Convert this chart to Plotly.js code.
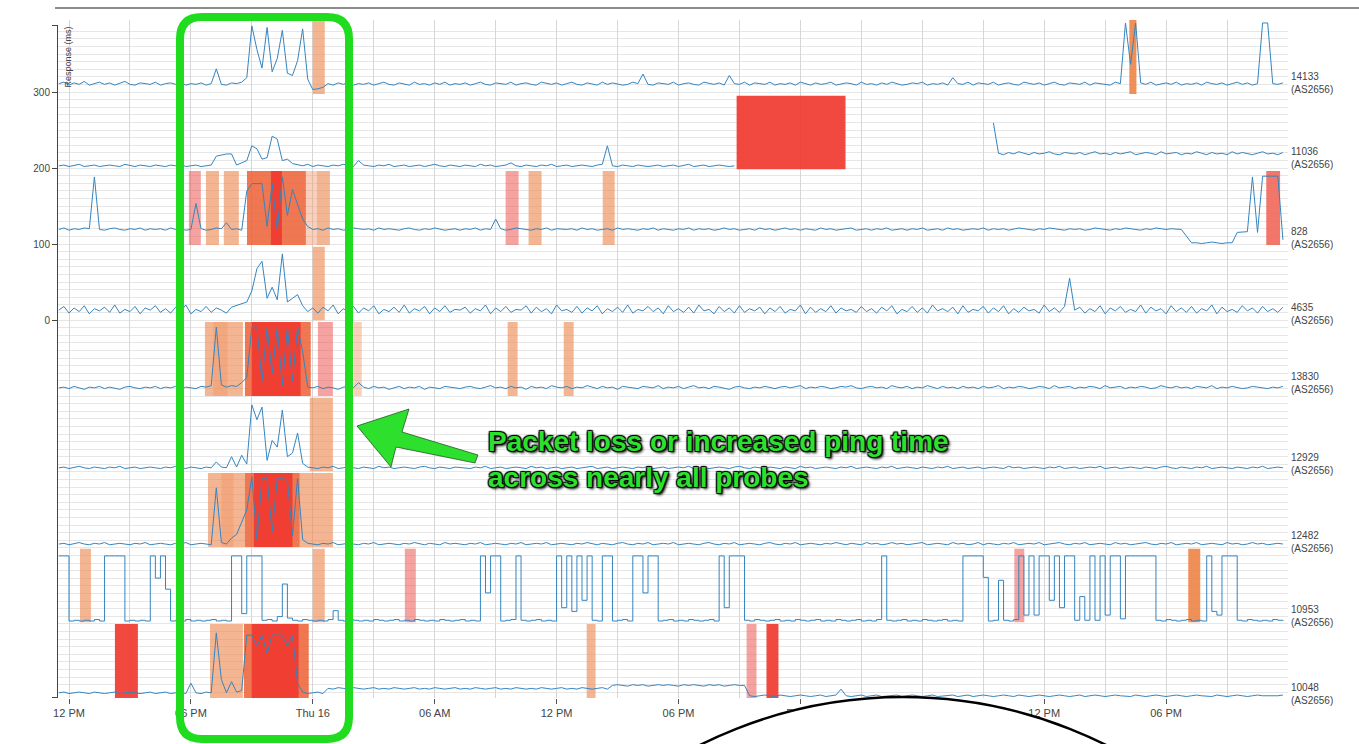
<!DOCTYPE html>
<html>
<head>
<meta charset="utf-8">
<script src="https://cdn.plot.ly/plotly-3.0.1.min.js"></script>
<style>html,body{margin:0;padding:0;background:#fff}#chart{width:1359px;height:744px}</style>
</head>
<body>
<div id="chart"></div>
<script>
// ---------------- DATA ----------------
const seriesStart = '2015-07-15 11:30';   // first sample
const stepMinutes = 15;                   // sampling interval
const probeIds = ['14133','11036','828','4635','13830','12929','12482','10953','10048'];
const probeAsn = 'AS2656';

const xTickVals = ['2015-07-15 12:00','2015-07-15 18:00','2015-07-16 00:00','2015-07-16 06:00','2015-07-16 12:00',
                   '2015-07-16 18:00','2015-07-17 00:00','2015-07-17 06:00','2015-07-17 12:00','2015-07-17 18:00'];
const xTickText = ['12 PM','06 PM','Thu 16','06 AM','12 PM','06 PM','Fri 17','06 AM','12 PM','06 PM'];
const yTickVals = [0, 100, 200, 300];

// response times (ms, per probe), one value per 15 minutes
const rtt14133 = [
14,16,12,15,13,17,12,14,16,13,15,12,14,17,13,12,15,14,13,16,
12,14,15,13,16,12,14,13,15,12,14,34,13,12,15,14,16,22,92,60,
35,90,30,48,86,28,25,45,88,20,6,7,9,14,12,15,13,16,12,14,
13,15,12,14,16,13,12,15,14,12,16,13,14,12,15,13,16,12,14,13,
15,12,14,16,13,12,15,14,13,16,12,14,15,13,12,16,14,13,15,12,
14,16,13,12,15,14,12,16,13,15,14,12,13,16,14,27,13,12,15,14,
13,16,12,14,15,13,12,16,14,13,15,12,25,14,13,16,12,15,14,13,
16,12,14,13,15,12,16,14,12,15,13,14,16,12,13,15,14,12,16,13,
14,12,15,13,16,14,12,13,15,14,16,12,14,13,15,12,22,14,13,16,
12,15,14,13,16,12,14,15,13,12,16,14,13,15,12,14,16,13,12,15,
14,13,16,12,15,14,13,12,16,14,96,40,96,15,13,16,12,14,15,13,
16,12,14,13,15,12,16,14,13,15,12,14,16,13,15,12,14,96,96,14,
13,15];
const rtt11036 = [
5,6,4,5,7,4,5,6,4,5,6,5,4,7,5,4,6,5,4,6,
5,4,6,5,7,4,5,6,4,5,6,18,20,21,21,6,9,12,32,28,
14,16,45,41,12,14,8,6,5,7,4,6,5,4,6,5,7,5,4,12,
6,5,4,6,5,7,4,5,6,4,5,6,4,5,7,5,4,6,5,4,
6,5,4,7,5,6,4,5,6,9,5,4,6,5,4,6,5,7,4,5,
6,4,5,6,5,4,6,7,32,5,4,6,5,4,6,5,4,5,6,4,
5,6,4,5,7,4,5,6,4,5,6,5,4,5,null,null,null,null,null,null,
null,null,null,null,null,null,null,null,null,null,null,null,null,null,null,null,null,null,null,null,
null,null,null,null,null,null,null,null,null,null,null,null,null,null,null,null,null,null,null,null,
null,null,null,null,63,22,20,23,21,24,22,20,23,21,22,24,21,20,23,22,
21,23,20,22,24,21,22,20,23,21,22,24,20,21,23,22,20,24,21,22,
23,20,22,21,24,22,20,23,21,22,20,24,21,23,22,20,22,24,21,22,
20,23];
const rtt828 = [
21,23,20,22,21,23,22,92,21,20,22,23,21,20,22,21,23,20,22,21,
22,20,23,21,22,20,21,56,22,20,21,23,22,30,21,22,20,73,83,83,
83,25,83,20,92,40,75,55,35,25,21,22,20,23,21,22,20,21,23,22,
21,22,20,23,21,22,21,20,22,23,21,20,22,21,23,22,20,21,22,20,
22,21,23,20,22,21,35,22,20,21,23,22,21,20,22,21,23,20,22,21,
21,22,20,23,21,22,20,21,22,20,23,21,22,21,20,22,21,23,20,22,
21,20,22,21,23,20,22,21,22,20,21,23,21,22,20,21,22,20,23,21,
22,20,21,23,21,22,20,22,21,20,23,21,22,20,21,22,23,20,21,22,
20,22,21,23,20,21,22,20,22,21,23,20,21,22,20,23,21,22,20,21,
22,21,23,20,22,21,22,20,21,23,22,21,20,22,21,23,22,21,20,22,
21,22,20,21,23,22,21,20,22,21,23,22,21,20,22,21,23,22,21,22,
22,21,12,3,3,2,3,4,3,2,3,3,17,17,18,92,17,93,93,93,
93,7];
const rtt4635 = [
14,19,10,17,12,20,9,16,13,18,11,21,10,15,12,19,9,17,14,20,
11,16,10,18,13,21,9,15,12,19,11,17,14,10,18,20,22,25,40,70,
80,30,45,28,90,25,30,35,20,12,17,10,18,13,21,9,16,12,19,10,
17,13,20,9,15,12,18,11,21,10,16,13,19,9,17,12,20,11,15,14,
18,10,16,13,21,9,17,12,19,11,15,14,20,10,18,12,16,9,21,13,
15,11,19,10,17,13,20,9,16,12,18,11,21,10,15,13,19,12,17,9,
20,12,16,11,18,10,21,13,15,9,19,12,17,10,20,11,16,13,18,9,
17,12,19,10,15,13,21,9,18,11,16,12,20,10,17,13,15,11,19,12,
16,10,18,13,20,9,15,12,19,11,17,10,21,13,16,12,18,9,20,11,
15,13,19,10,17,12,20,9,16,11,18,13,15,10,21,12,17,11,19,57,
14,18,10,16,12,20,9,17,13,19,11,15,12,21,10,18,13,16,9,20,
12,17,11,19,10,16,13,21,9,18,12,15,11,20,13,17,10,19,12,16,
11,18];
const rtt13830 = [
11,12,10,13,11,9,12,11,13,10,12,11,9,12,13,11,10,12,11,13,
10,12,11,13,9,12,11,10,13,12,14,93,15,12,14,13,18,25,93,93,
20,93,30,93,15,93,20,93,60,12,11,13,10,12,11,9,12,13,11,18,
12,10,13,11,12,9,11,13,10,12,11,13,9,12,11,10,13,12,11,10,
12,13,11,10,12,14,11,12,10,13,11,12,9,13,11,12,10,14,12,11,
13,10,12,11,14,12,10,13,11,12,9,13,12,11,10,13,12,11,14,10,
12,11,13,10,12,14,11,12,10,13,12,11,9,12,13,11,10,12,11,13,
11,10,12,13,11,12,14,10,12,11,13,12,10,11,13,12,14,11,10,12,
13,11,12,10,14,12,11,13,10,12,11,14,12,10,13,11,12,10,13,11,
12,10,13,11,12,14,10,12,11,13,12,10,11,13,12,10,14,11,12,13,
10,12,11,13,12,10,14,11,12,13,10,12,11,13,12,10,11,14,12,11,
13,11,12,10,13,12,11,14,10,12,11,13,12,10,11,13,12,11,10,12,
11,13];
const rtt12929 = [
5,6,4,5,7,5,4,6,5,4,6,5,7,4,5,6,4,5,6,5,
4,6,5,7,5,4,6,5,4,6,5,13,6,5,20,6,22,10,90,70,
87,15,42,33,83,20,25,52,11,6,5,4,6,5,7,4,5,6,5,4,
6,5,4,7,5,6,4,5,6,5,4,6,7,5,4,6,5,4,6,5,
5,4,6,5,7,4,5,6,4,5,6,5,4,7,5,6,4,5,6,4,
5,6,4,5,6,7,4,5,6,4,5,6,5,4,6,5,7,4,5,6,
4,5,6,5,7,4,5,6,4,5,6,5,4,6,7,5,4,6,5,4,
6,5,4,6,5,4,7,5,6,4,5,6,5,4,6,5,7,4,5,6,
5,4,6,5,7,4,5,6,5,4,6,5,4,6,5,7,4,5,6,4,
5,6,4,5,6,5,4,7,5,6,4,5,6,5,4,6,5,7,4,5,
6,4,5,6,5,7,4,5,6,4,5,6,5,4,6,5,4,6,7,5,
4,6,5,4,6,5,7,4,5,6,5,4,6,5,4,6,5,7,4,5,
6,5];
const rtt12482 = [
4,5,3,4,6,4,3,5,4,6,3,4,5,4,3,5,4,6,3,4,
5,4,3,5,4,6,3,4,5,4,3,80,6,4,12,17,33,50,95,10,
93,93,20,93,93,90,15,93,10,5,4,3,5,4,6,3,4,5,4,3,
5,4,6,3,4,5,4,3,5,4,6,4,3,5,4,3,6,4,5,4,
3,5,4,6,3,4,5,4,3,5,4,6,3,4,5,4,6,3,4,5,
4,3,5,4,6,4,3,5,4,3,5,6,4,3,5,4,6,3,4,5,
4,6,3,4,5,4,3,5,6,4,3,5,4,6,3,4,5,4,3,5,
6,4,3,5,4,6,3,4,5,4,3,5,4,6,4,3,5,4,3,6,
4,5,3,4,6,4,5,3,4,5,6,3,4,5,4,3,6,4,5,3,
4,6,3,5,4,3,5,4,6,3,4,5,4,6,3,4,5,6,4,3,
5,4,6,3,4,5,4,3,6,4,5,3,4,5,6,4,3,5,4,6,
3,4,5,4,6,3,4,5,4,3,6,4,5,3,4,6,4,5,3,4,
5,4];
const rtt10953 = [
90,90,2,3,2,3,2,4,2,90,90,90,90,2,3,2,3,2,90,60,
90,45,2,3,2,4,2,3,2,3,4,2,3,2,90,90,12,90,90,90,
3,4,2,8,52,6,3,2,4,3,2,3,2,4,16,3,2,4,3,2,
3,2,4,3,2,3,4,2,3,2,4,3,2,3,2,4,3,2,3,4,
2,3,2,90,40,90,90,2,3,4,90,3,2,3,4,2,3,2,90,20,
90,15,90,30,90,3,2,90,90,2,3,4,2,90,90,40,90,90,2,3,
4,2,3,2,4,3,2,3,4,2,90,20,90,90,90,3,2,4,3,2,
3,4,2,3,2,4,3,2,3,4,2,3,2,4,3,2,3,4,2,3,
2,4,90,3,2,3,4,2,3,2,4,3,2,3,4,2,3,2,90,90,
90,90,61,2,3,57,3,2,4,90,10,90,10,90,90,30,90,20,90,90,
3,35,3,90,3,90,10,90,90,5,90,90,90,90,90,90,3,2,4,3,
2,3,4,2,3,2,90,15,10,90,90,90,3,2,4,3,2,3,2,4,
3,2];
const rtt10048 = [
7,8,6,7,8,7,6,8,7,6,7,8,6,7,8,7,6,7,8,6,
7,8,6,7,8,6,20,7,6,8,7,88,25,7,22,8,10,85,85,70,
85,60,85,85,85,70,85,20,8,6,7,8,6,13,12,14,13,12,14,13,
12,13,14,12,13,12,14,13,12,13,14,12,13,12,14,13,12,13,14,12,
13,12,14,13,12,13,14,12,13,12,14,13,12,13,12,14,13,12,13,14,
12,13,12,14,13,12,13,14,12,17,18,17,16,18,17,18,16,17,18,17,
18,17,16,18,17,18,17,16,18,17,18,16,17,18,17,17,3,2,3,4,
3,2,4,3,2,3,4,3,2,3,4,2,3,4,12,3,2,3,4,2,
3,4,2,3,3,4,2,3,4,3,2,3,4,2,3,3,4,2,3,4,
2,3,4,3,2,3,4,3,2,4,3,2,3,4,3,2,3,4,3,2,
3,4,2,3,4,3,2,3,4,3,3,2,4,3,2,3,4,3,2,3,
4,3,2,3,4,3,3,2,4,3,2,3,4,3,2,3,4,3,3,2,
3,4];

// packet-loss windows: [start hour, end hour] after seriesStart, loss level
const loss14133 = [[12.50,13.09,'o'],[52.69,53.04,'m']];
const loss11036 = [[33.36,38.72,'r']];
const loss828   = [[6.40,6.99,'p'],[7.24,7.88,'o'],[8.12,8.86,'o'],[9.26,12.16,'O'],[10.44,10.98,'r'],
                   [12.16,12.70,'l'],[12.70,13.34,'o'],[21.99,22.63,'p'],[23.12,23.76,'o'],[26.77,27.36,'o'],[59.43,60.11,'s']];
const loss4635  = [[12.50,13.09,'o']];
const loss13830 = [[7.19,9.06,'o'],[7.60,8.30,'l'],[9.16,12.40,'O'],[9.50,11.90,'r'],[12.75,13.49,'p'],
                   [14.52,14.91,'l'],[22.09,22.58,'o'],[24.85,25.34,'o']];
const loss12929 = [[12.35,13.49,'o']];
const loss12482 = [[7.34,9.16,'o'],[8.00,8.60,'l'],[9.16,11.86,'O'],[9.60,11.50,'r'],[11.86,13.49,'o']];
const loss10953 = [[1.04,1.58,'o'],[12.50,13.09,'o'],[17.03,17.57,'p'],[47.03,47.52,'p'],[55.59,56.18,'m']];
const loss10048 = [[2.76,3.89,'r'],[7.44,9.06,'o'],[9.11,12.30,'O'],[9.50,11.80,'r'],[25.98,26.42,'o'],[33.85,34.34,'p'],[34.83,35.42,'r']];

// ---------------- BUILD ----------------
const rttSeries = [rtt14133,rtt11036,rtt828,rtt4635,rtt13830,rtt12929,rtt12482,rtt10953,rtt10048];
const lossSeries = [loss14133,loss11036,loss828,loss4635,loss13830,loss12929,loss12482,loss10953,loss10048];
const lineShapes = ['linear','linear','linear','linear','linear','linear','linear','hv','linear'];
const lossColor = {
  p:'rgba(236,88,82,0.55)', l:'rgba(240,150,105,0.45)', o:'rgba(238,135,80,0.62)', s:'rgba(240,95,80,0.85)',
  m:'rgba(236,125,60,0.85)', O:'rgba(236,95,50,0.85)', r:'rgba(240,58,48,0.93)'
};
const t0 = Date.parse(seriesStart.replace(' ','T') + ':00Z');
const fmt = ms => new Date(ms).toISOString().slice(0,19).replace('T',' ');

const W = 1359, H = 744, ML = 58, MR = 71, MT = 20, MB = 46;
const PW = W - ML - MR, PH = H - MT - MB;
const px = x => (x - ML) / PW;               // pixel -> paper x
const py = y => (H - MB - y) / PH;           // pixel -> paper y

const bandPx = 74, gapPx = 1.5, bandMax = 100;
const traces = [{x:[seriesStart], y:[null], xaxis:'x', yaxis:'y', mode:'lines', hoverinfo:'skip', showlegend:false}];
const layout = {
  width:W, height:H, margin:{l:ML, r:MR, t:MT, b:MB}, showlegend:false,
  paper_bgcolor:'#ffffff', plot_bgcolor:'rgba(0,0,0,0)',
  font:{family:'"Liberation Sans", Arial, sans-serif', size:10, color:'#444'},
  xaxis:{type:'date', range:['2015-07-15 11:27:30','2015-07-18 00:00'], anchor:'y',
    tickmode:'array', tickvals:xTickVals, ticktext:xTickText, ticks:'outside', ticklen:5, tickcolor:'#555',
    tickfont:{size:11, color:'#444'}, showgrid:true, gridcolor:'#d6d6d6', gridwidth:1,
    minor:{dtick:3*3600000, tick0:'2015-07-15 00:00', showgrid:true, gridcolor:'#d6d6d6', ticks:''},
    showline:false, zeroline:false, fixedrange:true},
  yaxis:{domain:[0, py(25)], range:[-497.4, 388.2], tickmode:'array',
    tickvals:[-497].concat(yTickVals, [388]), ticktext:[''].concat(yTickVals.map(String), ['']),
    ticks:'outside', ticklen:5, tickcolor:'#444', showline:true, linecolor:'#444', linewidth:1,
    tickfont:{size:10, color:'#444'}, showgrid:true, gridcolor:'#e6e6e6',
    minor:{dtick:10, tick0:0, showgrid:true, gridcolor:'#e6e6e6', ticks:''}, zeroline:false, fixedrange:true},
  shapes:[], annotations:[]
};

const labelCentersPx = [82.5,157.5,237.5,314,383.5,463.5,541.5,616,694];
rttSeries.forEach((vals, k) => {
  const ax = 'y' + (k + 2);
  const top = 1 - k * (bandPx + gapPx) / PH;
  const bottom = top - bandPx / PH;
  layout['yaxis' + (k + 2)] = {domain:[Math.max(0,bottom), Math.min(1,top)], range:[0, bandMax],
    showgrid:false, zeroline:false, showticklabels:false, ticks:'', showline:false, fixedrange:true, anchor:'x'};
  lossSeries[k].forEach(([h0, h1, lvl]) => {
    traces.push({type:'scatter', mode:'lines', xaxis:'x', yaxis:ax, hoverinfo:'skip', showlegend:false,
      x:[fmt(t0 + h0 * 3600000), fmt(t0 + h1 * 3600000), fmt(t0 + h1 * 3600000), fmt(t0 + h0 * 3600000)],
      y:[0, 0, bandMax, bandMax], fill:'toself', fillcolor:lossColor[lvl], line:{width:0, color:'rgba(0,0,0,0)'}});
  });
});
rttSeries.forEach((vals, k) => {
  traces.push({
    type:'scatter', mode:'lines', xaxis:'x', yaxis:'y' + (k + 2),
    x: vals.map((v, i) => fmt(t0 + i * stepMinutes * 60000)), y: vals,
    line:{color:'#3485c0', width:1, shape:lineShapes[k]}, hoverinfo:'skip', showlegend:false
  });
  layout.annotations.push({xref:'paper', yref:'paper', x:1 + 1/PW, y:py(labelCentersPx[k]),
    xanchor:'left', yanchor:'middle', align:'left', showarrow:false,
    text: probeIds[k] + '<br>(' + probeAsn + ')', font:{size:10, color:'#444'}});
});

// axis title
layout.annotations.push({xref:'paper', yref:'paper', x:px(60), y:py(25), xanchor:'left', yanchor:'top',
  textangle:-90, showarrow:false, text:'Response (ms)', font:{size:9, color:'#444'}});

// overlay: top rule
layout.shapes.push({type:'line', xref:'paper', yref:'paper', x0:px(55), x1:px(1359), y0:py(8), y1:py(8),
  line:{color:'#8c8c8c', width:2}, layer:'above'});

// overlay: green rounded box, arrow, white circle
(function(){
  const x0 = 180, x1 = 349, y0 = 17, y1 = 739, r = 22;
  const P = (x, y) => px(x).toFixed(5) + ',' + py(y).toFixed(5);
  const path = 'M' + P(x0 + r, y0) + ' L' + P(x1 - r, y0) + ' Q' + P(x1, y0) + ' ' + P(x1, y0 + r) +
    ' L' + P(x1, y1 - r) + ' Q' + P(x1, y1) + ' ' + P(x1 - r, y1) + ' L' + P(x0 + r, y1) +
    ' Q' + P(x0, y1) + ' ' + P(x0, y1 - r) + ' L' + P(x0, y0 + r) + ' Q' + P(x0, y0) + ' ' + P(x0 + r, y0) + ' Z';
  layout.shapes.push({type:'path', xref:'paper', yref:'paper', path:path, line:{color:'#1fdc1f', width:8},
    fillcolor:'rgba(0,0,0,0)', layer:'above'});
  const arrowPts = [[357,426],[409,409],[402,432],[478,455],[475,463],[396,447],[391,467]];
  const apath = 'M' + arrowPts.map(p => P(p[0], p[1])).join(' L') + ' Z';
  layout.shapes.push({type:'path', xref:'paper', yref:'paper', path:apath,
    line:{color:'rgba(20,70,20,0.7)', width:1}, fillcolor:'#2ee02e', layer:'above'});
  layout.shapes.push({type:'circle', xref:'paper', yref:'paper', x0:px(450), x1:px(1356), y0:py(1603), y1:py(697),
    line:{color:'#000', width:2.5}, fillcolor:'#ffffff', layer:'above'});
})();

layout.annotations.push({xref:'paper', yref:'paper', x:px(486), y:py(424), xanchor:'left', yanchor:'top',
  align:'left', showarrow:false,
  text:'<b>Packet loss or increased ping time<br>across nearly all probes</b>',
  font:{family:'"Liberation Sans", Arial, sans-serif', size:28, color:'#2ee02e',
        shadow:'1px 1px 1px #000, -1px -1px 1px #000, 1px -1px 1px #000, -1px 1px 1px #000, 2px 2px 3px #000'}});

Plotly.newPlot('chart', traces, layout, {staticPlot:true, displayModeBar:false});
</script>
</body>
</html>
